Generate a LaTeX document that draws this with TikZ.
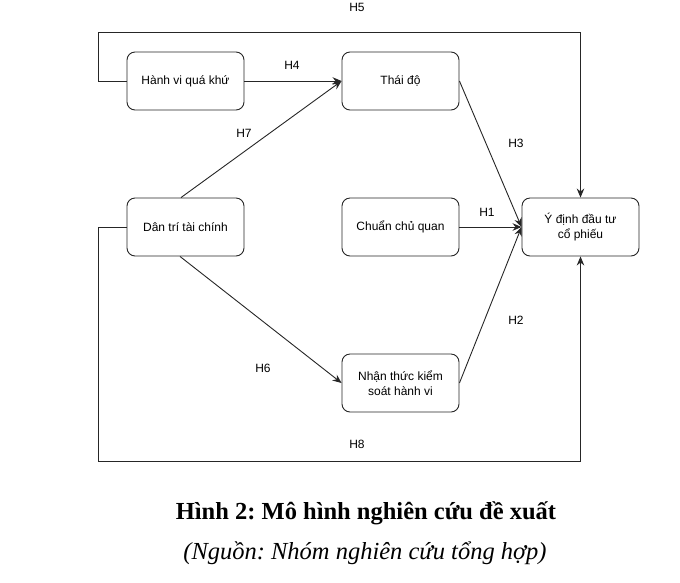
\documentclass[tikz,border=0pt]{standalone}
\usepackage{fontspec}
\setmainfont{Liberation Serif}
\newfontfamily\diagfont{Liberation Sans}
\usetikzlibrary{arrows.meta}
\frenchspacing
\begin{document}
\begin{tikzpicture}[x=1pt,y=-1pt,
  box/.style={draw=black!85, line width=0.9pt, rounded corners=8pt, minimum width=117pt, minimum height=58pt, align=center, font=\diagfont\fontsize{12}{15.5}\selectfont, inner sep=2pt},
  lbl/.style={font=\diagfont\fontsize{12}{15}\selectfont, inner sep=0pt},
  conn/.style={draw=black!85, line width=0.9pt},
  arr/.style={conn, -{Stealth[length=9pt,width=7.5pt]}}]
\useasboundingbox (0,0) rectangle (680,582);
\node[box] (hanhvi) at (185.5,81) {Hành vi quá khứ};
\node[box] (thaido) at (400.5,81) {Thái độ};
\node[box] (dantri) at (185.5,227) {Dân trí tài chính};
\node[box] (chuan) at (400.5,227) {Chuẩn chủ quan};
\node[box] (ydinh) at (580.5,227) {Ý định đầu tư\\cổ phiếu};
\node[box] (nhan) at (400.5,383) {Nhận thức kiểm\\soát hành vi};
\coordinate (h5a) at (98,81);
\coordinate (h5b) at (98,32);
\coordinate (h5c) at (580.5,32);
\coordinate (h8a) at (98,227);
\coordinate (h8b) at (98,461);
\coordinate (h8c) at (580.5,461);
\draw[arr] (hanhvi.west) -- (h5a) -- (h5b) -- (h5c) -- (ydinh.north);
\draw[arr] (hanhvi.east) -- (thaido.west);
\draw[arr] ([xshift=-4.5pt]dantri.north) -- (thaido.west);
\draw[arr] (thaido.east) -- (ydinh.west);
\draw[arr] (chuan.east) -- (ydinh.west);
\draw[arr] (nhan.east) -- (ydinh.west);
\draw[arr] ([xshift=-5.5pt]dantri.south) -- (nhan.west);
\draw[arr] (dantri.west) -- (h8a) -- (h8b) -- (h8c) -- (ydinh.south);
\node[lbl] (l5) at (357,7) {H5};
\node[lbl] (l4) at (292,65) {H4};
\node[lbl] (l7) at (244,133) {H7};
\node[lbl] (l3) at (516,143) {H3};
\node[lbl] (l1) at (487,212) {H1};
\node[lbl] (l2) at (516,320) {H2};
\node[lbl] (l6) at (263,368) {H6};
\node[lbl] (l8) at (357,444) {H8};
\node[inner sep=0pt, font=\fontsize{24.5}{28}\selectfont\bfseries] (title) at (366,513) {Hình 2: Mô hình nghiên cứu đề xuất};
\node[inner sep=0pt, font=\fontsize{24.5}{28}\selectfont\itshape] (src) at (365,553) {(Nguồn: Nhóm nghiên cứu tổng hợp)};
\end{tikzpicture}
\end{document}
